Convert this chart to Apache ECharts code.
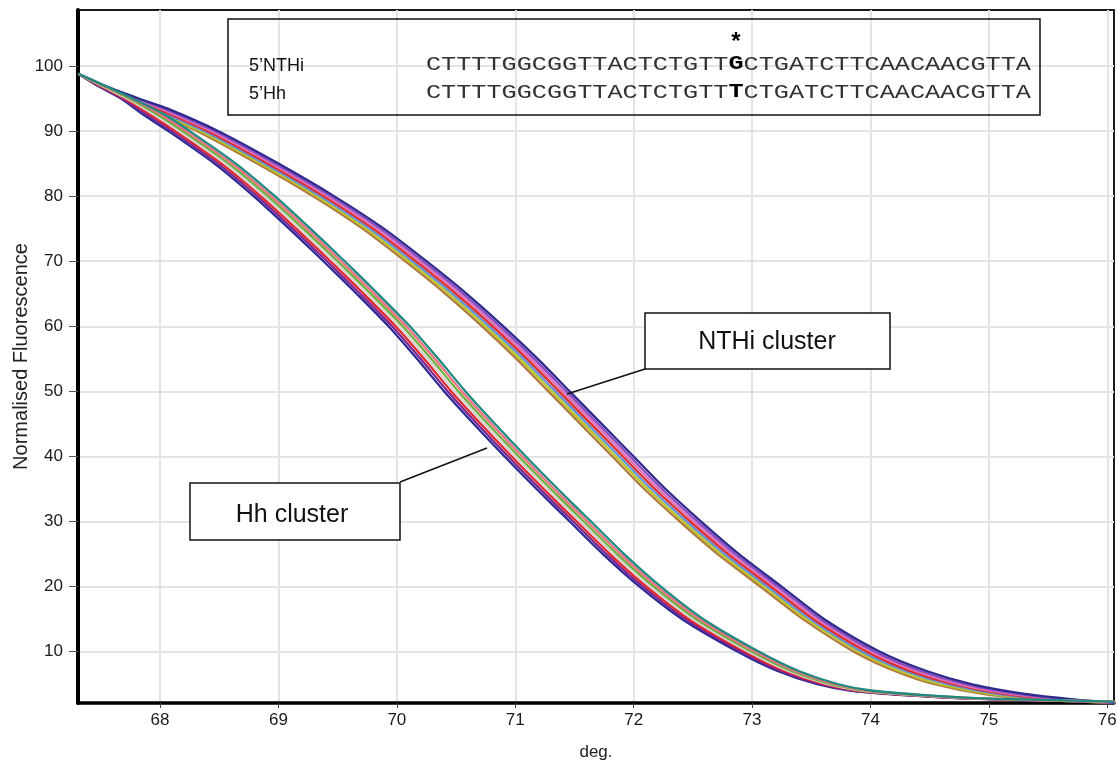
<!DOCTYPE html>
<html>
<head>
<meta charset="utf-8">
<script src="https://cdn.jsdelivr.net/npm/echarts@6/dist/echarts.min.js"></script>
<style>
html,body{margin:0;padding:0;background:#fff;}
#chart{width:1118px;height:764px;}
</style>
</head>
<body>
<div id="chart"></div>
<script>
// ---- tick labels ----
const xTickLabels = [68, 69, 70, 71, 72, 73, 74, 75, 76];
const yTickLabels = [10, 20, 30, 40, 50, 60, 70, 80, 90, 100];

// ---- NTHi cluster: fluorescence levels and, per sample, the temperature (deg) at which each level is reached ----
const nthiLevels = [98.8, 97, 95, 93.4, 90, 85, 80, 75, 70, 65, 60, 55, 50, 45, 40, 35, 30, 25, 20, 15, 10, 7, 5, 3.5, 2.5, 2.2];
const nthiS1 = [67.31, 67.47, 67.72, 67.89, 68.31, 68.82, 69.29, 69.71, 70.07, 70.41, 70.72, 71.01, 71.28, 71.55, 71.82, 72.09, 72.39, 72.71, 73.07, 73.43, 73.86, 74.21, 74.54, 74.96, 75.56, 76.06];
const nthiS2 = [67.31, 67.48, 67.73, 67.92, 68.34, 68.85, 69.32, 69.74, 70.10, 70.44, 70.75, 71.04, 71.31, 71.58, 71.85, 72.12, 72.42, 72.74, 73.10, 73.46, 73.90, 74.25, 74.59, 75.02, 75.60, 76.06];
const nthiS3 = [67.31, 67.49, 67.75, 67.95, 68.37, 68.88, 69.35, 69.77, 70.13, 70.47, 70.78, 71.07, 71.34, 71.61, 71.88, 72.15, 72.45, 72.77, 73.13, 73.49, 73.93, 74.30, 74.65, 75.08, 75.65, 76.06];
const nthiS4 = [67.31, 67.50, 67.77, 67.98, 68.40, 68.91, 69.38, 69.80, 70.16, 70.50, 70.81, 71.10, 71.37, 71.64, 71.91, 72.18, 72.48, 72.80, 73.16, 73.52, 73.97, 74.34, 74.70, 75.14, 75.69, 76.06];
const nthiS5 = [67.31, 67.51, 67.79, 68.01, 68.43, 68.94, 69.41, 69.83, 70.19, 70.53, 70.84, 71.13, 71.40, 71.67, 71.94, 72.21, 72.51, 72.83, 73.19, 73.55, 74.01, 74.39, 74.75, 75.20, 75.74, 76.06];
const nthiS6 = [67.31, 67.52, 67.81, 68.04, 68.46, 68.97, 69.44, 69.86, 70.22, 70.56, 70.87, 71.16, 71.43, 71.70, 71.97, 72.24, 72.54, 72.86, 73.22, 73.58, 74.04, 74.43, 74.81, 75.26, 75.78, 76.06];
const nthiS7 = [67.31, 67.53, 67.82, 68.07, 68.49, 69.00, 69.47, 69.89, 70.25, 70.59, 70.90, 71.19, 71.46, 71.73, 72.00, 72.27, 72.57, 72.89, 73.25, 73.61, 74.08, 74.48, 74.86, 75.32, 75.83, 76.06];

// ---- Hh cluster ----
const hhLevels = [98.8, 97, 95, 92.5, 90, 85, 80, 75, 70, 65, 60, 55, 50, 45, 40, 35, 30, 25, 20, 15, 10, 7, 5, 4, 3.3, 2.8, 2.4, 2.3];
const hhS1 = [67.31, 67.47, 67.67, 67.86, 68.07, 68.46, 68.79, 69.09, 69.38, 69.66, 69.93, 70.17, 70.40, 70.65, 70.91, 71.18, 71.46, 71.74, 72.05, 72.41, 72.88, 73.22, 73.55, 73.84, 74.31, 74.84, 75.72, 76.06];
const hhS2 = [67.31, 67.48, 67.68, 67.89, 68.10, 68.49, 68.82, 69.12, 69.41, 69.69, 69.96, 70.20, 70.43, 70.68, 70.94, 71.21, 71.49, 71.77, 72.08, 72.44, 72.91, 73.25, 73.58, 73.87, 74.34, 74.87, 75.75, 76.06];
const hhS3 = [67.31, 67.49, 67.70, 67.92, 68.13, 68.52, 68.85, 69.15, 69.44, 69.72, 69.99, 70.23, 70.46, 70.71, 70.97, 71.24, 71.52, 71.80, 72.11, 72.47, 72.94, 73.28, 73.61, 73.90, 74.37, 74.90, 75.78, 76.06];
const hhS4 = [67.31, 67.50, 67.72, 67.95, 68.16, 68.55, 68.88, 69.18, 69.47, 69.75, 70.02, 70.26, 70.49, 70.74, 71.00, 71.27, 71.55, 71.83, 72.14, 72.50, 72.97, 73.31, 73.64, 73.93, 74.40, 74.93, 75.81, 76.06];
const hhS5 = [67.31, 67.51, 67.74, 67.98, 68.19, 68.58, 68.91, 69.21, 69.50, 69.78, 70.05, 70.29, 70.52, 70.77, 71.03, 71.30, 71.58, 71.86, 72.17, 72.53, 73.00, 73.34, 73.67, 73.96, 74.43, 74.96, 75.84, 76.06];
const hhS6 = [67.31, 67.52, 67.76, 68.01, 68.22, 68.61, 68.94, 69.24, 69.53, 69.81, 70.08, 70.32, 70.55, 70.80, 71.06, 71.33, 71.61, 71.89, 72.20, 72.56, 73.03, 73.37, 73.70, 73.99, 74.46, 74.99, 75.87, 76.06];
const hhS7 = [67.31, 67.53, 67.77, 68.04, 68.25, 68.64, 68.97, 69.27, 69.56, 69.84, 70.11, 70.35, 70.58, 70.83, 71.09, 71.36, 71.64, 71.92, 72.23, 72.59, 73.06, 73.40, 73.73, 74.02, 74.49, 75.02, 75.90, 76.06];

// ---- annotation texts ----
const seqPrefix = 'CTTTTGGCGGTTACTCTGTT';
const seqSuffix = 'CTGATCTTCAACAACGTTA';
const snpNTHi = 'G';
const snpHh = 'T';

// ---- styles ----
const nthiColors = ['#b07a3a', '#b9c42a', '#5f8fd8', '#e02a2a', '#dd6fb8', '#8a4cc0', '#2f2b8e'];
const hhColors = ['#2b2b95', '#7d2590', '#e3262b', '#d4d4d4', '#6fae3a', '#ef6f84', '#1f8a80'];

const chart = echarts.init(document.getElementById('chart'), null, {renderer: 'canvas'});

function makeSeries(temps, levels, color, name) {
  return {
    name: name,
    type: 'line',
    data: temps.map((t, i) => [t, levels[i]]),
    showSymbol: false,
    symbol: 'none',
    smooth: 0.25,
    silent: true,
    animation: false,
    clip: true,
    lineStyle: {color: color, width: 2.3},
    z: 3
  };
}

const nthiLines = [nthiS1, nthiS2, nthiS3, nthiS4, nthiS5, nthiS6, nthiS7];
const hhLines = [hhS1, hhS2, hhS3, hhS4, hhS5, hhS6, hhS7];
const series = [];
nthiLines.forEach((l, i) => series.push(makeSeries(l, nthiLevels, nthiColors[i], 'NTHi ' + (i + 1))));
hhLines.forEach((l, i) => series.push(makeSeries(l, hhLevels, hhColors[i], 'Hh ' + (i + 1))));

const labelFont = 'Liberation Sans, Arial, sans-serif';

const option = {
  backgroundColor: '#fff',
  animation: false,
  grid: {
    left: 78, right: 4, top: 10, bottom: 61,
    show: true, borderColor: '#1a1a1a', borderWidth: 2,
    containLabel: false, outerBoundsMode: 'none'
  },
  xAxis: {
    type: 'value',
    min: 67.307, max: 76.057,
    splitNumber: 8,
    name: 'deg.',
    nameLocation: 'middle',
    nameGap: 41,
    nameMoveOverlap: false,
    nameTextStyle: {fontFamily: labelFont, fontSize: 17, color: '#222'},
    axisLine: {show: true, onZero: false, lineStyle: {color: '#000', width: 3.5}},
    axisTick: {show: true, length: 5, customValues: xTickLabels, lineStyle: {color: '#444', width: 1}},
    axisLabel: {
      margin: 9, fontFamily: labelFont, fontSize: 17, color: '#1a1a1a',
      customValues: xTickLabels,
      formatter: v => xTickLabels.includes(Math.round(v * 1000) / 1000) ? String(Math.round(v)) : ''
    },
    splitLine: {show: true, lineStyle: {color: '#e4e4e4', width: 2}}
  },
  yAxis: {
    type: 'value',
    min: 2.12, max: 108.6,
    splitNumber: 10,
    name: 'Normalised Fluorescence',
    nameLocation: 'middle',
    nameGap: 47,
    nameMoveOverlap: false,
    nameRotate: 90,
    nameTextStyle: {fontFamily: labelFont, fontSize: 20, color: '#222'},
    axisLine: {show: true, onZero: false, lineStyle: {color: '#000', width: 4}},
    axisTick: {show: true, length: 9, customValues: yTickLabels, lineStyle: {color: '#555', width: 1}},
    axisLabel: {
      margin: 15, fontFamily: labelFont, fontSize: 17, color: '#1a1a1a',
      customValues: yTickLabels,
      formatter: v => yTickLabels.includes(Math.round(v * 1000) / 1000) ? String(Math.round(v)) : ''
    },
    splitLine: {show: true, lineStyle: {color: '#e4e4e4', width: 2}}
  },
  series: series,
  graphic: {
    elements: [
      // sequence box
      {type: 'rect', z: 100, shape: {x: 228, y: 19, width: 812, height: 96},
       style: {fill: 'rgba(255,255,255,0)', stroke: '#111', lineWidth: 1.5}},
      {type: 'text', z: 101, x: 249, y: 66,
       style: {text: '5’NTHi', font: '18px ' + labelFont, fill: '#111', textVerticalAlign: 'middle'}},
      {type: 'text', z: 101, x: 249, y: 94,
       style: {text: '5’Hh', font: '18px ' + labelFont, fill: '#111', textVerticalAlign: 'middle'}},
      {type: 'text', z: 101, x: 426, y: 64, scaleX: 1.2,
       style: {
         text: '{a|' + seqPrefix + '}{b|' + snpNTHi + '}{a|' + seqSuffix + '}',
         textVerticalAlign: 'middle',
         rich: {
           a: {fontFamily: 'Liberation Mono, monospace', fontSize: 21, fill: '#333', color: '#333'},
           b: {fontFamily: 'Liberation Mono, monospace', fontSize: 21, fontWeight: 'bold', fill: '#000', color: '#000'}
         }
       }},
      {type: 'text', z: 101, x: 426, y: 92, scaleX: 1.2,
       style: {
         text: '{a|' + seqPrefix + '}{b|' + snpHh + '}{a|' + seqSuffix + '}',
         textVerticalAlign: 'middle',
         rich: {
           a: {fontFamily: 'Liberation Mono, monospace', fontSize: 21, fill: '#333', color: '#333'},
           b: {fontFamily: 'Liberation Mono, monospace', fontSize: 21, fontWeight: 'bold', fill: '#000', color: '#000'}
         }
       }},
      {type: 'text', z: 101, x: 736, y: 42,
       style: {text: '*', font: 'bold 24px ' + labelFont, fill: '#000', textAlign: 'center', textVerticalAlign: 'middle'}},

      // NTHi cluster callout
      {type: 'line', z: 100, shape: {x1: 645, y1: 369, x2: 567, y2: 394}, style: {stroke: '#111', lineWidth: 1.5}},
      {type: 'rect', z: 100, shape: {x: 645, y: 313, width: 245, height: 56},
       style: {fill: '#fff', stroke: '#111', lineWidth: 1.5}},
      {type: 'text', z: 101, x: 767, y: 342,
       style: {text: 'NTHi cluster', font: '25px ' + labelFont, fill: '#111', textAlign: 'center', textVerticalAlign: 'middle'}},

      // Hh cluster callout
      {type: 'line', z: 100, shape: {x1: 400, y1: 482, x2: 487, y2: 448}, style: {stroke: '#111', lineWidth: 1.5}},
      {type: 'rect', z: 100, shape: {x: 190, y: 483, width: 210, height: 57},
       style: {fill: '#fff', stroke: '#111', lineWidth: 1.5}},
      {type: 'text', z: 101, x: 292, y: 515,
       style: {text: 'Hh cluster', font: '25px ' + labelFont, fill: '#111', textAlign: 'center', textVerticalAlign: 'middle'}}
    ]
  }
};

chart.setOption(option);
</script>
</body>
</html>
